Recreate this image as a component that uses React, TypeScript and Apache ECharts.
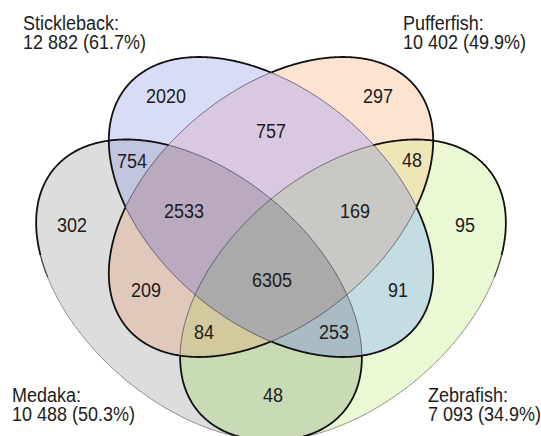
import React, { useEffect, useRef } from 'react';
import * as echarts from 'echarts';

// ---------- data ----------
const setNames = ['Stickleback', 'Pufferfish', 'Medaka', 'Zebrafish'];
const setTotals = [12882, 10402, 10488, 7093];
const setPercents = ['61.7', '49.9', '50.3', '34.9'];

// S = Stickleback, P = Pufferfish, M = Medaka, Z = Zebrafish
const regionKeys = ['S', 'P', 'M', 'Z', 'SP', 'SM', 'PM', 'MZ', 'SZ', 'PZ', 'SPM', 'SPZ', 'SMZ', 'PMZ', 'SPMZ'];
const regionValues = [2020, 297, 302, 95, 757, 754, 209, 48, 91, 48, 2533, 169, 253, 84, 6305];

// ---------- layout / style ----------
const regionLabelXY = [
  [166, 96], [378, 96], [72, 225], [465, 225], [271, 131], [132, 161], [146, 290], [273, 395],
  [398, 290], [412, 160], [184, 211], [355, 211], [334, 332], [204, 332], [272, 280],
];
const regionColors = [
  '#d9dcf6', '#fde3d0', '#dddddd', '#eaf8d3', '#d9c9e0', '#c2c5df', '#e0c8bb', '#c9dbb5',
  '#c4dde3', '#eee6b7', '#b9aabf', '#c9c8c4', '#a9bcc4', '#d3c99e', '#aaaaaa',
];
const setLabelXY = [[23, 23], [403, 23], [12, 395], [428, 395]];
const ellipses = [
  { cx: 271, cy: 207, a: 188, b: 116, rot: 40 },
  { cx: 271, cy: 207, a: 188, b: 116, rot: -40 },
  { cx: 199, cy: 290, a: 189, b: 116, rot: 40 },
  { cx: 343, cy: 290, a: 189, b: 116, rot: -40 },
];
const FONT = '"Liberation Sans", Arial, Helvetica, sans-serif';
const TEXT_COLOR = '#1c1c1c';

type Ell = { cx: number; cy: number; a: number; b: number; rot: number };

function inside(e: Ell, x: number, y: number) {
  const r = (e.rot * Math.PI) / 180;
  const c = Math.cos(r), s = Math.sin(r);
  const dx = x - e.cx, dy = y - e.cy;
  const u = dx * c + dy * s, v = -dx * s + dy * c;
  return (u * u) / (e.a * e.a) + (v * v) / (e.b * e.b) < 1;
}
function pointAt(e: Ell, t: number): [number, number] {
  const r = (e.rot * Math.PI) / 180;
  const c = Math.cos(r), s = Math.sin(r);
  const u = e.a * Math.cos(t), v = e.b * Math.sin(t);
  return [e.cx + u * c - v * s, e.cy + u * s + v * c];
}
const N = 720;
const r2 = (p: [number, number]) => [Math.round(p[0] * 100) / 100, Math.round(p[1] * 100) / 100];

function keyToMask(k: string) {
  let m = 0;
  if (k.includes('S')) m |= 1;
  if (k.includes('P')) m |= 2;
  if (k.includes('M')) m |= 4;
  if (k.includes('Z')) m |= 8;
  return m;
}

function regionPolygon(mask: number) {
  const arcs: [number, number][][] = [];
  for (let k = 0; k < 4; k++) {
    const pts: [number, number][] = [];
    const good: boolean[] = [];
    for (let i = 0; i < N; i++) {
      const p = pointAt(ellipses[k], (2 * Math.PI * i) / N);
      pts.push(p);
      let ok = true;
      for (let j = 0; j < 4; j++) {
        if (j === k) continue;
        if (inside(ellipses[j], p[0], p[1]) !== !!(mask & (1 << j))) { ok = false; break; }
      }
      good.push(ok);
    }
    const start = good.findIndex((g) => !g);
    if (start < 0) { arcs.push(pts); continue; }
    let cur: [number, number][] | null = null;
    for (let m = 1; m <= N; m++) {
      const i = (start + m) % N;
      if (good[i]) { if (!cur) cur = []; cur.push(pts[i]); }
      else if (cur) { arcs.push(cur); cur = null; }
    }
    if (cur) arcs.push(cur);
  }
  if (!arcs.length) return [];
  const used = new Set<number>([0]);
  const poly = [...arcs[0]];
  while (used.size < arcs.length) {
    const end = poly[poly.length - 1];
    let best = -1, bestD = Infinity, rev = false;
    arcs.forEach((arc, idx) => {
      if (used.has(idx)) return;
      const s = arc[0], e = arc[arc.length - 1];
      const ds = Math.hypot(s[0] - end[0], s[1] - end[1]);
      const de = Math.hypot(e[0] - end[0], e[1] - end[1]);
      if (ds < bestD) { bestD = ds; best = idx; rev = false; }
      if (de < bestD) { bestD = de; best = idx; rev = true; }
    });
    used.add(best);
    const a = rev ? [...arcs[best]].reverse() : arcs[best];
    poly.push(...a);
  }
  return poly.map(r2);
}

function strokeClass(k: number, p: [number, number]) {
  const ins = [0, 1, 2, 3].map((j) => (j === k ? false : inside(ellipses[j], p[0], p[1])));
  if (k === 0) return ins[1] ? 'thin' : 'thick';
  if (k === 1) return ins[0] ? 'thin' : 'thick';
  const count = ins.filter(Boolean).length;
  if (count >= 2) return 'thin';
  if (count === 0) {
    if (p[1] > 278) return 'faint';
    if (p[1] > 255) return 'medium';
  }
  return 'thick';
}
const strokeStyles: Record<string, { stroke: string; lineWidth: number; z: number }> = {
  thick: { stroke: '#111111', lineWidth: 1.8, z: 5 },
  medium: { stroke: '#444444', lineWidth: 1.3, z: 4 },
  thin: { stroke: 'rgba(45,40,70,0.6)', lineWidth: 1, z: 3 },
  faint: { stroke: '#8c8c8c', lineWidth: 1, z: 3 },
};

function ellipseStrokes(k: number) {
  const pts: [number, number][] = [];
  for (let i = 0; i <= N; i++) pts.push(pointAt(ellipses[k], (2 * Math.PI * i) / N));
  const cls: string[] = [];
  for (let i = 0; i < N; i++) {
    const mid = pointAt(ellipses[k], (2 * Math.PI * (i + 0.5)) / N);
    cls.push(strokeClass(k, mid));
  }
  let start = 0;
  for (let i = 0; i < N; i++) if (cls[i] !== cls[(i + N - 1) % N]) { start = i; break; }
  const out: any[] = [];
  let curCls = cls[start];
  let cur: [number, number][] = [pts[start]];
  for (let m = 0; m < N; m++) {
    const i = (start + m) % N;
    if (cls[i] !== curCls) {
      out.push({ cls: curCls, pts: cur });
      curCls = cls[i];
      cur = [pts[i]];
    }
    cur.push(pts[(i + 1) % N]);
  }
  out.push({ cls: curCls, pts: cur });
  return out.map((o) => {
    const st = strokeStyles[o.cls];
    return {
      type: 'polyline',
      z: st.z,
      silent: true,
      shape: { points: o.pts.map(r2) },
      style: { stroke: st.stroke, lineWidth: st.lineWidth, fill: null, lineJoin: 'round' },
    };
  });
}

const fmt = (n: number) => String(n).replace(/\B(?=(\d{3})+(?!\d))/g, ' ');

function textEl(text: string, x: number, y: number, align: string, fontSize: number) {
  return {
    type: 'text',
    x,
    y,
    z: 10,
    scaleY: 1.12,
    silent: true,
    style: {
      text,
      fill: TEXT_COLOR,
      fontSize,
      fontFamily: FONT,
      align,
      verticalAlign: 'middle',
      textAlign: align,
      textVerticalAlign: 'middle',
    },
  };
}

function buildOption() {
  const graphic: any[] = [];
  regionKeys.forEach((key, i) => {
    const pts = regionPolygon(keyToMask(key));
    graphic.push({
      type: 'polygon',
      z: 1,
      silent: true,
      shape: { points: pts },
      style: { fill: regionColors[i], stroke: regionColors[i], lineWidth: 0.6 },
    });
  });
  for (let k = 0; k < 4; k++) graphic.push(...ellipseStrokes(k));
  regionKeys.forEach((key, i) => {
    graphic.push(textEl(String(regionValues[i]), regionLabelXY[i][0], regionLabelXY[i][1], 'center', 18));
  });
  setNames.forEach((name, i) => {
    const [x, y] = setLabelXY[i];
    graphic.push(textEl(name + ':', x, y, 'left', 18));
    graphic.push(textEl(`${fmt(setTotals[i])} (${setPercents[i]}%)`, x, y + 19, 'left', 18));
  });
  return { animation: false, backgroundColor: '#ffffff', graphic };
}

export default function App() {
  const ref = useRef<HTMLDivElement>(null);
  useEffect(() => {
    if (!ref.current) return;
    const chart = echarts.init(ref.current, null, { renderer: 'svg' });
    chart.setOption(buildOption() as any);
    return () => chart.dispose();
  }, []);
  return (
    <div
      ref={ref}
      style={{ position: 'fixed', left: 0, top: 0, width: 541, height: 436, background: '#fff' }}
    />
  );
}
